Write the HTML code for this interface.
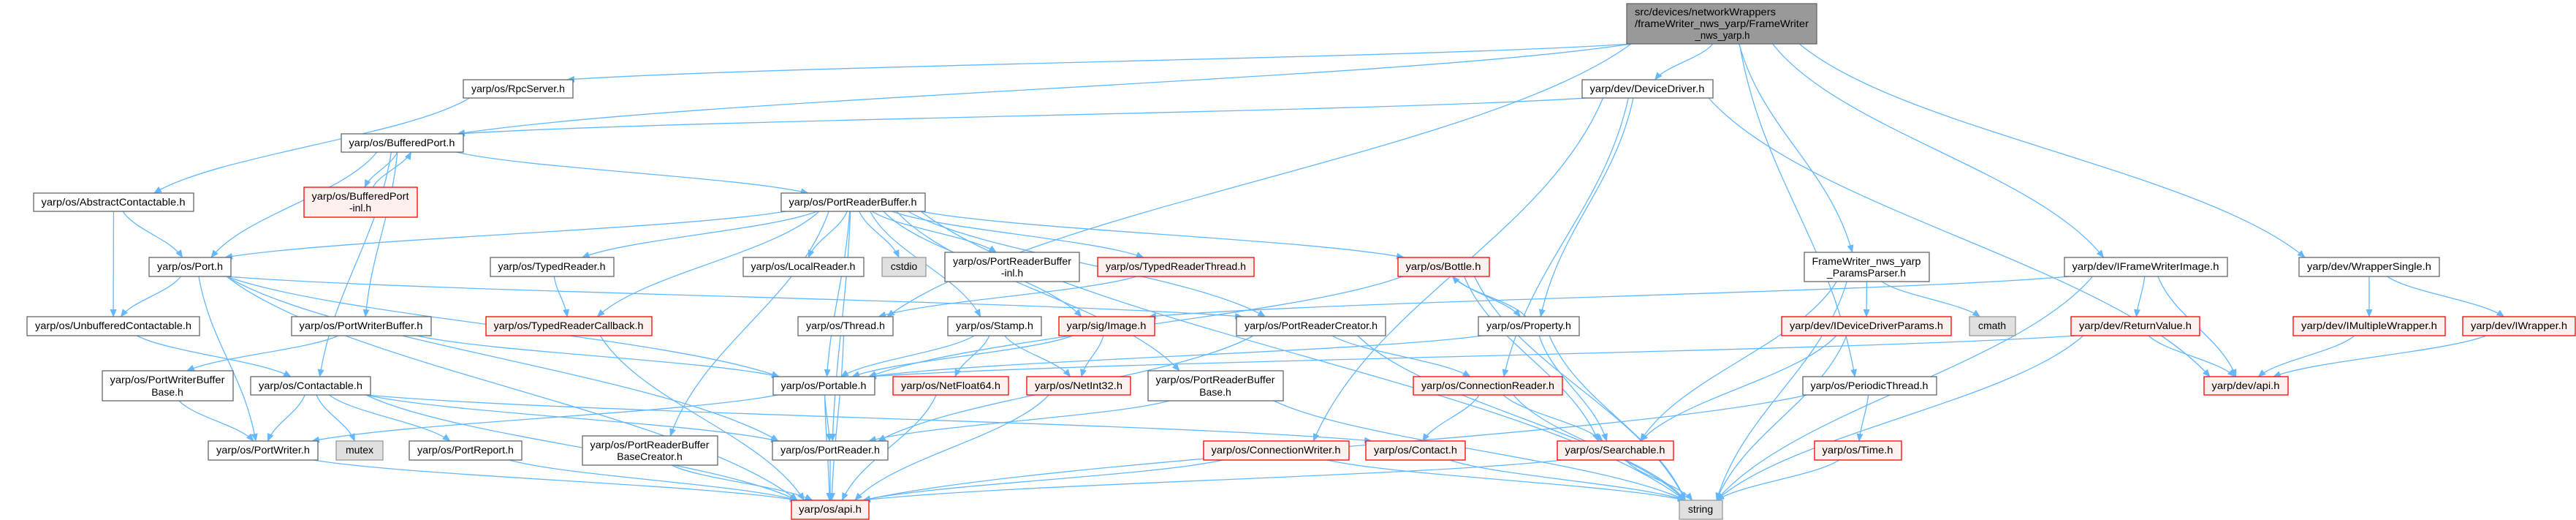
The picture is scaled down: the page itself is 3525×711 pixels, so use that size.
<!DOCTYPE html>
<html><head><meta charset="utf-8"><style>
html,body{margin:0;padding:0;background:#fff;}
svg{display:block;}
text{font-family:"Liberation Sans","DejaVu Sans",sans-serif;font-size:14px;fill:#000;text-anchor:middle;}
.w rect{fill:#fff;stroke:#666;stroke-width:1.3;}
.r rect{fill:#fff0f0;stroke:#f00;stroke-width:1.3;}
.g rect{fill:#e0e0e0;stroke:#999;stroke-width:1.3;}
.t rect{fill:#999;stroke:#666;stroke-width:1.3;}
#edges path{fill:none;stroke:#63b8ff;stroke-width:1.3;}
</style></head><body>
<svg id="s" width="3525" height="711" viewBox="0 0 3525 711" xmlns="http://www.w3.org/2000/svg">
<defs><marker id="a" markerUnits="userSpaceOnUse" markerWidth="11" markerHeight="9" refX="10" refY="4.5" orient="auto"><path d="M0,0 L11,4.5 L0,9 z" fill="#63b8ff"/></marker></defs>
<g id="edges"></g>
<g id="nodes">
<g class="t" id="T"><rect x="2226" y="5" width="260" height="55"/><text x="2237" y="21" style="text-anchor:start" textLength="193" lengthAdjust="spacingAndGlyphs">src/devices/networkWrappers</text><text x="2237" y="37" style="text-anchor:start" textLength="238" lengthAdjust="spacingAndGlyphs">/frameWriter_nws_yarp/FrameWriter</text><text x="2357" y="53" textLength="75" lengthAdjust="spacingAndGlyphs">_nws_yarp.h</text></g>
<g class="w" id="rpc"><rect x="634" y="109" width="150" height="25"/><text x="709" y="126" textLength="128" lengthAdjust="spacingAndGlyphs">yarp/os/RpcServer.h</text></g>
<g class="w" id="dd"><rect x="2165" y="109" width="179" height="25"/><text x="2254" y="126" textLength="157" lengthAdjust="spacingAndGlyphs">yarp/dev/DeviceDriver.h</text></g>
<g class="w" id="bp"><rect x="467" y="183" width="167" height="25"/><text x="550" y="200" textLength="145" lengthAdjust="spacingAndGlyphs">yarp/os/BufferedPort.h</text></g>
<g class="w" id="ac"><rect x="46" y="264" width="219" height="25"/><text x="155" y="281" textLength="197" lengthAdjust="spacingAndGlyphs">yarp/os/AbstractContactable.h</text></g>
<g class="r" id="bpinl"><rect x="416" y="256" width="155" height="41"/><text x="493" y="273" textLength="133" lengthAdjust="spacingAndGlyphs">yarp/os/BufferedPort</text><text x="493" y="289">-inl.h</text></g>
<g class="w" id="prb"><rect x="1069" y="264" width="197" height="25"/><text x="1167" y="281" textLength="175" lengthAdjust="spacingAndGlyphs">yarp/os/PortReaderBuffer.h</text></g>
<g class="w" id="port"><rect x="204" y="352" width="112" height="26"/><text x="260" y="369" textLength="90" lengthAdjust="spacingAndGlyphs">yarp/os/Port.h</text></g>
<g class="w" id="tr"><rect x="671" y="352" width="169" height="26"/><text x="755" y="369" textLength="147" lengthAdjust="spacingAndGlyphs">yarp/os/TypedReader.h</text></g>
<g class="w" id="lr"><rect x="1017" y="352" width="165" height="26"/><text x="1099" y="369" textLength="143" lengthAdjust="spacingAndGlyphs">yarp/os/LocalReader.h</text></g>
<g class="g" id="cstdio"><rect x="1207" y="352" width="60" height="26"/><text x="1237" y="369">cstdio</text></g>
<g class="w" id="prbinl"><rect x="1293" y="345" width="184" height="40"/><text x="1385" y="362" textLength="162" lengthAdjust="spacingAndGlyphs">yarp/os/PortReaderBuffer</text><text x="1385" y="378">-inl.h</text></g>
<g class="r" id="trt"><rect x="1502" y="352" width="214" height="26"/><text x="1609" y="369" textLength="192" lengthAdjust="spacingAndGlyphs">yarp/os/TypedReaderThread.h</text></g>
<g class="r" id="bottle"><rect x="1913" y="352" width="125" height="26"/><text x="1975" y="369" textLength="103" lengthAdjust="spacingAndGlyphs">yarp/os/Bottle.h</text></g>
<g class="w" id="pp"><rect x="2469" y="345" width="171" height="40"/><text x="2554" y="362" textLength="149" lengthAdjust="spacingAndGlyphs">FrameWriter_nws_yarp</text><text x="2554" y="378">_ParamsParser.h</text></g>
<g class="w" id="ifw"><rect x="2825" y="352" width="223" height="26"/><text x="2936" y="369" textLength="201" lengthAdjust="spacingAndGlyphs">yarp/dev/IFrameWriterImage.h</text></g>
<g class="w" id="ws"><rect x="3146" y="352" width="192" height="26"/><text x="3242" y="369" textLength="170" lengthAdjust="spacingAndGlyphs">yarp/dev/WrapperSingle.h</text></g>
<g class="w" id="unb"><rect x="37" y="433" width="236" height="26"/><text x="155" y="450" textLength="214" lengthAdjust="spacingAndGlyphs">yarp/os/UnbufferedContactable.h</text></g>
<g class="w" id="pwb"><rect x="399" y="433" width="191" height="26"/><text x="494" y="450" textLength="169" lengthAdjust="spacingAndGlyphs">yarp/os/PortWriterBuffer.h</text></g>
<g class="r" id="trc"><rect x="665" y="433" width="227" height="26"/><text x="778" y="450" textLength="205" lengthAdjust="spacingAndGlyphs">yarp/os/TypedReaderCallback.h</text></g>
<g class="w" id="thread"><rect x="1092" y="433" width="130" height="26"/><text x="1157" y="450" textLength="108" lengthAdjust="spacingAndGlyphs">yarp/os/Thread.h</text></g>
<g class="w" id="stamp"><rect x="1297" y="433" width="128" height="26"/><text x="1361" y="450" textLength="106" lengthAdjust="spacingAndGlyphs">yarp/os/Stamp.h</text></g>
<g class="r" id="image"><rect x="1449" y="433" width="131" height="26"/><text x="1514" y="450" textLength="109" lengthAdjust="spacingAndGlyphs">yarp/sig/Image.h</text></g>
<g class="w" id="prc"><rect x="1692" y="433" width="204" height="26"/><text x="1794" y="450" textLength="182" lengthAdjust="spacingAndGlyphs">yarp/os/PortReaderCreator.h</text></g>
<g class="w" id="prop"><rect x="2023" y="433" width="138" height="26"/><text x="2092" y="450" textLength="116" lengthAdjust="spacingAndGlyphs">yarp/os/Property.h</text></g>
<g class="r" id="idp"><rect x="2438" y="433" width="232" height="26"/><text x="2554" y="450" textLength="210" lengthAdjust="spacingAndGlyphs">yarp/dev/IDeviceDriverParams.h</text></g>
<g class="g" id="cmath"><rect x="2695" y="433" width="63" height="26"/><text x="2726" y="450">cmath</text></g>
<g class="r" id="rv"><rect x="2834" y="433" width="176" height="26"/><text x="2922" y="450" textLength="154" lengthAdjust="spacingAndGlyphs">yarp/dev/ReturnValue.h</text></g>
<g class="r" id="imw"><rect x="3138" y="433" width="208" height="26"/><text x="3242" y="450" textLength="186" lengthAdjust="spacingAndGlyphs">yarp/dev/IMultipleWrapper.h</text></g>
<g class="r" id="iw"><rect x="3370" y="433" width="154" height="26"/><text x="3447" y="450" textLength="132" lengthAdjust="spacingAndGlyphs">yarp/dev/IWrapper.h</text></g>
<g class="w" id="pwbb"><rect x="140" y="507" width="179" height="41"/><text x="229" y="524" textLength="157" lengthAdjust="spacingAndGlyphs">yarp/os/PortWriterBuffer</text><text x="229" y="541">Base.h</text></g>
<g class="w" id="contactable"><rect x="343" y="515" width="164" height="25"/><text x="425" y="532" textLength="142" lengthAdjust="spacingAndGlyphs">yarp/os/Contactable.h</text></g>
<g class="w" id="portable"><rect x="1058" y="515" width="139" height="25"/><text x="1127" y="532" textLength="117" lengthAdjust="spacingAndGlyphs">yarp/os/Portable.h</text></g>
<g class="r" id="nf64"><rect x="1222" y="515" width="158" height="25"/><text x="1301" y="532" textLength="136" lengthAdjust="spacingAndGlyphs">yarp/os/NetFloat64.h</text></g>
<g class="r" id="ni32"><rect x="1405" y="515" width="142" height="25"/><text x="1476" y="532" textLength="120" lengthAdjust="spacingAndGlyphs">yarp/os/NetInt32.h</text></g>
<g class="w" id="prbb"><rect x="1571" y="507" width="185" height="41"/><text x="1663" y="524" textLength="163" lengthAdjust="spacingAndGlyphs">yarp/os/PortReaderBuffer</text><text x="1663" y="541">Base.h</text></g>
<g class="r" id="creader"><rect x="1934" y="515" width="204" height="25"/><text x="2036" y="532" textLength="182" lengthAdjust="spacingAndGlyphs">yarp/os/ConnectionReader.h</text></g>
<g class="w" id="pthr"><rect x="2467" y="515" width="183" height="25"/><text x="2558" y="532" textLength="161" lengthAdjust="spacingAndGlyphs">yarp/os/PeriodicThread.h</text></g>
<g class="r" id="devapi"><rect x="3016" y="515" width="115" height="25"/><text x="3073" y="532" textLength="93" lengthAdjust="spacingAndGlyphs">yarp/dev/api.h</text></g>
<g class="w" id="pwriter"><rect x="285" y="603" width="150" height="26"/><text x="360" y="620" textLength="128" lengthAdjust="spacingAndGlyphs">yarp/os/PortWriter.h</text></g>
<g class="g" id="mutex"><rect x="460" y="603" width="64" height="26"/><text x="492" y="620">mutex</text></g>
<g class="w" id="preport"><rect x="560" y="603" width="154" height="26"/><text x="637" y="620" textLength="132" lengthAdjust="spacingAndGlyphs">yarp/os/PortReport.h</text></g>
<g class="w" id="prbbc"><rect x="797" y="596" width="185" height="40"/><text x="889" y="613" textLength="163" lengthAdjust="spacingAndGlyphs">yarp/os/PortReaderBuffer</text><text x="889" y="629">BaseCreator.h</text></g>
<g class="w" id="preader"><rect x="1057" y="603" width="158" height="26"/><text x="1136" y="620" textLength="136" lengthAdjust="spacingAndGlyphs">yarp/os/PortReader.h</text></g>
<g class="r" id="cwriter"><rect x="1647" y="603" width="199" height="26"/><text x="1746" y="620" textLength="177" lengthAdjust="spacingAndGlyphs">yarp/os/ConnectionWriter.h</text></g>
<g class="r" id="contact"><rect x="1869" y="603" width="136" height="26"/><text x="1937" y="620" textLength="114" lengthAdjust="spacingAndGlyphs">yarp/os/Contact.h</text></g>
<g class="r" id="searchable"><rect x="2131" y="603" width="159" height="26"/><text x="2210" y="620" textLength="137" lengthAdjust="spacingAndGlyphs">yarp/os/Searchable.h</text></g>
<g class="r" id="time"><rect x="2483" y="603" width="119" height="26"/><text x="2542" y="620" textLength="97" lengthAdjust="spacingAndGlyphs">yarp/os/Time.h</text></g>
<g class="r" id="osapi"><rect x="1083" y="684" width="106" height="26"/><text x="1136" y="701" textLength="86" lengthAdjust="spacingAndGlyphs">yarp/os/api.h</text></g>
<g class="g" id="string"><rect x="2298" y="684" width="59" height="26"/><text x="2327" y="701">string</text></g>
</g>
</svg>
<script>
var E={T:"rpc bp dd thread pthr pp ifw ws",dd:"bp prop creader cwriter devapi",rpc:"ac",bp:"port contactable bpinl pwb prb",bpinl:"bp",ac:"port unb",
port:"unb pwriter preader portable prc osapi",prb:"port tr trc lr cstdio prbinl trt bottle stamp portable preader prbbc prbb string prc image",
tr:"trc",trc:"osapi",trt:"thread",unb:"contactable",pwb:"pwbb portable",pwbb:"pwriter",contactable:"pwriter mutex preport contact preader osapi",
pwriter:"osapi",preport:"osapi",prbbc:"osapi",thread:"osapi",stamp:"portable nf64 ni32",image:"portable ni32",portable:"preader pwriter osapi",
nf64:"osapi",ni32:"osapi",preader:"osapi",prbb:"preader string",prc:"preader creader string",cwriter:"osapi string",bottle:"prop searchable string portable",
prop:"bottle portable searchable string",creader:"contact searchable string",contact:"string",searchable:"string osapi",pp:"idp cmath searchable string",
idp:"searchable string",pthr:"time osapi",time:"string",ifw:"rv devapi image string",rv:"devapi string portable",ws:"imw iw",imw:"devapi",iw:"devapi"};
function R(id){var r=document.querySelector('#'+id+' rect');var x=+r.getAttribute('x'),y=+r.getAttribute('y'),w=+r.getAttribute('width'),h=+r.getAttribute('height');return{x:x,y:y,w:w,h:h,cx:x+w/2,b:y+h};}
var g=document.getElementById('edges'),out='';
for(var s in E){var S=R(s);E[s].split(' ').forEach(function(t){var D=R(t),sx,sy,ex,ey;
var off=Math.max(-S.w/2+6,Math.min(S.w/2-6,(D.cx-S.cx)*0.12));
if(D.y>S.b){sx=S.cx+off;sy=S.b;ex=D.cx+Math.max(-D.w/2+8,Math.min(D.w/2-8,(S.cx-D.cx)*0.1));ey=D.y;}
else if(D.b<S.y){sx=S.cx+off+10;sy=S.y;ex=D.cx+12;ey=D.b;}
else{sy=S.y+S.h/2;ey=D.y+D.h/2;if(D.cx>S.cx){sx=S.x+S.w;ex=D.x;}else{sx=S.x;ex=D.x+D.w;}}
var dx=ex-sx,dy=ey-sy;
out+='<path marker-end="url(#a)" d="M'+sx+','+sy+' C'+(sx+dx*0.2)+','+(sy+dy*0.4)+' '+(ex-dx*0.2)+','+(ey-dy*0.4)+' '+ex+','+ey+'"/>';});}
g.innerHTML=out;
</script>
</body></html>
